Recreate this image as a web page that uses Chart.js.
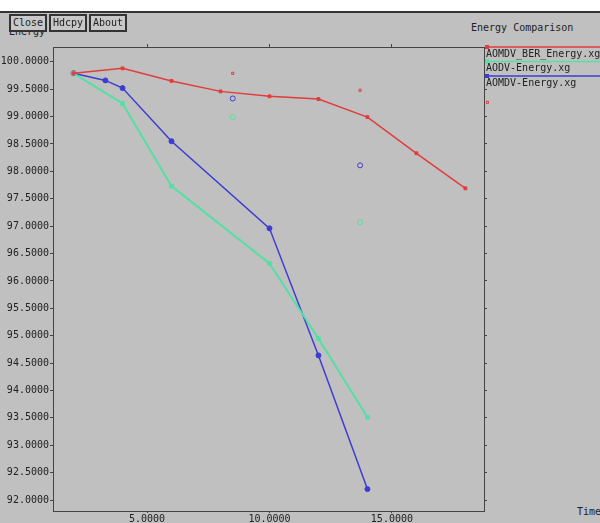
<!DOCTYPE html>
<html>
<head>
<meta charset="utf-8">
<script src="https://cdn.jsdelivr.net/npm/chart.js@4/dist/chart.umd.min.js"></script>
<style>
  html, body { margin: 0; padding: 0; background: #fff; }
  #wrap { position: relative; width: 600px; height: 523px; overflow: hidden; background: #c0c0c0; }
  #topStrip { position: absolute; left: 0; top: 0; width: 600px; height: 11px; background: #fff; }
  #topBar { position: absolute; left: 0; top: 11px; width: 600px; height: 2px; background: #333; }
  .lbl { position: absolute; font-family: "DejaVu Sans Mono", monospace; font-size: 10px; color: #222; white-space: nowrap; }
  .btn { position: absolute; top: 14px; height: 14px; line-height: 14px; padding: 0 2px; border: 2px solid #333;
         background: #c8c8c8; font-family: "DejaVu Sans Mono", monospace; font-size: 10px; color: #222; z-index: 3; }
  canvas { position: absolute; left: 0; top: 0; }
</style>
</head>
<body>
<div id="wrap">
  <div id="topStrip"></div>
  <div id="topBar"></div>
  <div class="lbl" style="left:9px; top:26px;">Energy</div>
  <div class="btn" style="left:9px;">Close</div>
  <div class="btn" style="left:49px;">Hdcpy</div>
  <div class="btn" style="left:89px;">About</div>
  <div class="lbl" style="left:471px; top:22px;">Energy Comparison</div>
  <div class="lbl" style="left:577px; top:506px;">Time</div>
  <canvas id="energyChart" width="600" height="523"></canvas>
</div>
<script>
// ---------- Data ----------
const seriesNames = ['AOMDV_BER_Energy.xg', 'AODV-Energy.xg', 'AOMDV-Energy.xg'];

const berTime   = [2, 4, 6, 8, 10, 12, 14, 16, 18];
const berEnergy = [99.79, 99.88, 99.65, 99.46, 99.37, 99.32, 98.99, 98.33, 97.69];

const aodvTime   = [2, 4, 6, 10, 12, 14];
const aodvEnergy = [99.79, 99.24, 97.73, 96.32, 94.95, 93.51];

const aomdvTime   = [2, 3.3, 4, 6, 10, 12, 14];
const aomdvEnergy = [99.79, 99.66, 99.52, 98.55, 96.96, 94.64, 92.20];

// loose points that xgraph drew without a connecting line
const berLooseTime   = [8.5, 13.7, 18.9];
const berLooseEnergy = [99.79, 99.48, 99.26];
const aodvLooseTime   = [8.5, 13.7];
const aodvLooseEnergy = [98.99, 97.07];
const aomdvLooseTime   = [8.5, 13.7];
const aomdvLooseEnergy = [99.33, 98.11];

const xTicks = [5, 10, 15];

const RED = '#e23c3c', GREEN = '#52e0a4', BLUE = '#3c3cd2';
const FONT = { family: 'DejaVu Sans Mono', size: 10 };

function pts(xs, ys) { return xs.map((x, i) => ({ x: x, y: ys[i] })); }

// ---------- Legend drawn xgraph style, right of the plot ----------
const xgLegend = {
  id: 'xgLegend',
  afterDraw(chart) {
    const ctx = chart.ctx;
    const left = chart.chartArea.right;
    const rows = chart.data.datasets.filter(d => d.label);
    ctx.save();
    ctx.font = '10px "DejaVu Sans Mono"';
    ctx.textBaseline = 'middle';
    rows.forEach((d, i) => {
      const y = chart.chartArea.top + i * 14.5;
      ctx.strokeStyle = d.borderColor;
      ctx.lineWidth = 1.5;
      ctx.beginPath();
      ctx.moveTo(left + 1, y);
      ctx.lineTo(600, y);
      ctx.stroke();
      ctx.fillStyle = d.borderColor;
      ctx.fillRect(left + 1, y - 2, 4, 4);
      ctx.fillStyle = '#222';
      ctx.fillText(d.label, left + 2, y + 7);
    });
    ctx.restore();
  }
};

function lineSet(label, xs, ys, color, style, radius, width) {
  return {
    label: label,
    data: pts(xs, ys),
    borderColor: color,
    backgroundColor: color,
    borderWidth: width,
    pointStyle: style,
    pointRadius: radius,
    pointBorderWidth: 1,
    tension: 0,
    showLine: true
  };
}

function looseSet(xs, ys, color, style, radius) {
  return {
    label: '',
    data: pts(xs, ys),
    borderColor: color,
    backgroundColor: 'rgba(0,0,0,0)',
    pointStyle: style,
    pointRadius: radius,
    pointBorderWidth: 1,
    showLine: false,
    clip: false
  };
}

const axisBorder = { display: true, color: '#444', width: 1, dash: [1, 2] };

new Chart(document.getElementById('energyChart').getContext('2d'), {
  type: 'scatter',
  data: {
    datasets: [
      lineSet(seriesNames[0], berTime, berEnergy, RED, 'rect', 2, 1.5),
      lineSet(seriesNames[1], aodvTime, aodvEnergy, GREEN, 'rect', 2.5, 2),
      lineSet(seriesNames[2], aomdvTime, aomdvEnergy, BLUE, 'circle', 2.5, 1.5),
      looseSet(berLooseTime, berLooseEnergy, RED, 'rect', 1.5),
      looseSet(aodvLooseTime, aodvLooseEnergy, GREEN, 'circle', 2.5),
      looseSet(aomdvLooseTime, aomdvLooseEnergy, BLUE, 'circle', 2.5)
    ]
  },
  options: {
    responsive: false,
    animation: false,
    layout: { padding: 0 },
    plugins: { legend: { display: false }, tooltip: { enabled: false } },
    scales: {
      x: {
        type: 'linear', position: 'bottom', min: 1.16, max: 18.76,
        afterFit: s => { s.height = 12; },
        afterBuildTicks: s => { s.ticks = xTicks.map(v => ({ value: v })); },
        ticks: { font: FONT, color: '#222', padding: 0, callback: v => v.toFixed(4) },
        grid: { drawOnChartArea: false, color: '#444', tickLength: 2 },
        border: axisBorder
      },
      x2: {
        type: 'linear', position: 'top', min: 1.16, max: 18.76,
        afterFit: s => { s.height = 47; },
        afterBuildTicks: s => { s.ticks = xTicks.map(v => ({ value: v })); },
        ticks: { display: false },
        grid: { drawOnChartArea: false, color: '#444', tickLength: 3 },
        border: axisBorder
      },
      y: {
        type: 'linear', position: 'left', min: 91.8, max: 100.27,
        afterFit: s => { s.width = 53; },
        ticks: { stepSize: 0.5, includeBounds: false, font: FONT, color: '#222', padding: 1,
                 callback: v => v.toFixed(4) },
        grid: { drawOnChartArea: false, color: '#444', tickLength: 3 },
        border: axisBorder
      },
      y2: {
        type: 'linear', position: 'right', min: 91.8, max: 100.27,
        afterFit: s => { s.width = 116; },
        ticks: { stepSize: 0.5, includeBounds: false, display: false },
        grid: { drawOnChartArea: false, color: '#444', tickLength: 3 },
        border: axisBorder
      }
    }
  },
  plugins: [xgLegend]
});
</script>
</body>
</html>
